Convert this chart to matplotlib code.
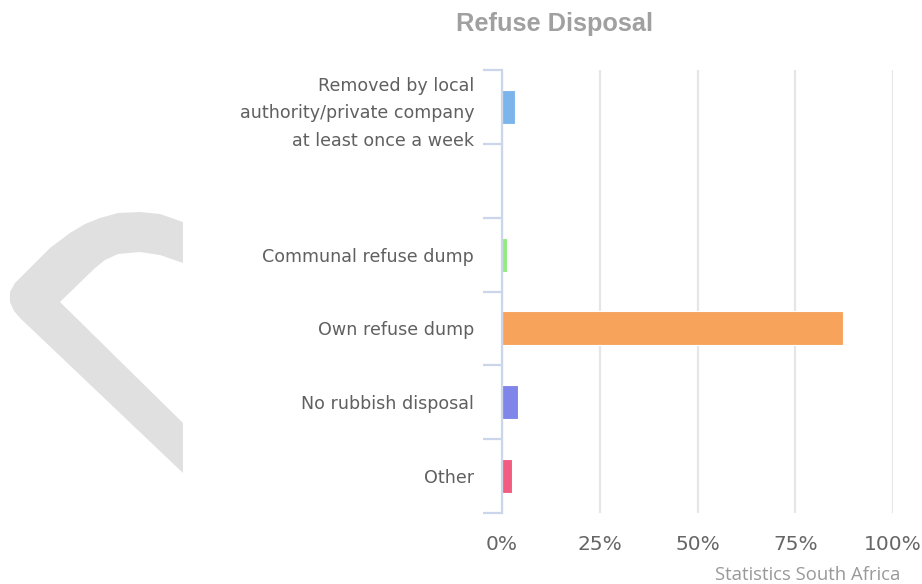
import numpy as np
import matplotlib.pyplot as plt
from matplotlib.patches import Polygon

# data
categories = [
    "Removed by local\nauthority/private company\nat least once a week",
    "",
    "Communal refuse dump",
    "Own refuse dump",
    "No rubbish disposal",
    "Other",
]
values = [3.3, 0.0, 1.3, 87.1, 4.0, 2.5]
colors = ["#7cb5ec", "#434348", "#90ed7d", "#f7a35c", "#8085e9", "#f15c80"]
xticks = [0, 25, 50, 75, 100]
xtick_labels = ["0%", "25%", "50%", "75%", "100%"]

W, H = 922, 584
fig = plt.figure(figsize=(W / 100, H / 100), dpi=100)


def px(x, y):
    """pixels (origine en haut à gauche) -> fraction de figure"""
    return (x / W, 1 - y / H)


# filigrane gris en forme de chevron
chevron = [
    (183, 222), (160, 214), (140, 212), (118, 213), (100, 218), (85, 224),
    (70, 233), (50, 248), (15, 283), (10, 292), (10, 302), (14, 311),
    (20, 318), (183, 473), (183, 423), (60, 302), (95, 268), (105, 260),
    (118, 254), (140, 252), (160, 255), (183, 263),
]
fig.add_artist(Polygon([px(x, y) for x, y in chevron], closed=True,
                       transform=fig.transFigure, facecolor="#e0e0e0",
                       edgecolor="none", zorder=0))

ax = fig.add_axes([502 / W, (H - 513) / H, 391 / W, 443 / H])
ax.patch.set_alpha(0)

y = np.arange(len(categories))
ax.barh(y, values, height=0.46, color=colors, edgecolor="white",
        linewidth=0.8, zorder=3)

ax.set_xlim(0, 100)
ax.set_ylim(len(categories) - 0.5, -0.5)

ax.set_xticks(xticks)
ax.set_xticklabels(xtick_labels, fontsize=14.5, color="#666666",
                   family="DejaVu Sans")
ax.tick_params(axis="x", length=0, pad=16)
ax.xaxis.grid(True, color="#e6e6e6", linewidth=1.6, zorder=0)

ax.set_yticks(y)
ax.set_yticklabels(categories, fontsize=12.6, color="#606060",
                   family="DejaVu Sans", linespacing=1.65)
ax.tick_params(axis="y", which="major", length=0, pad=20)
ax.set_yticks(np.arange(-0.5, len(categories)), minor=True)
ax.tick_params(axis="y", which="minor", length=14, width=1.6,
               color="#ccd6eb")

for s in ["top", "right", "bottom"]:
    ax.spines[s].set_visible(False)
ax.spines["left"].set_color("#ccd6eb")
ax.spines["left"].set_linewidth(1.6)
ax.spines["left"].set_zorder(5)

fig.text(554 / W, 1 - 24 / H, "Refuse Disposal", ha="center", va="center",
         fontsize=18.3, fontweight="bold", color="#a0a0a0",
         family="Liberation Sans")
fig.text(900 / W, 1 - 575 / H, "Statistics South Africa", ha="right",
         va="center", fontsize=13.3, color="#999999", family="Open Sans")

fig.savefig("out.png", dpi=100)
